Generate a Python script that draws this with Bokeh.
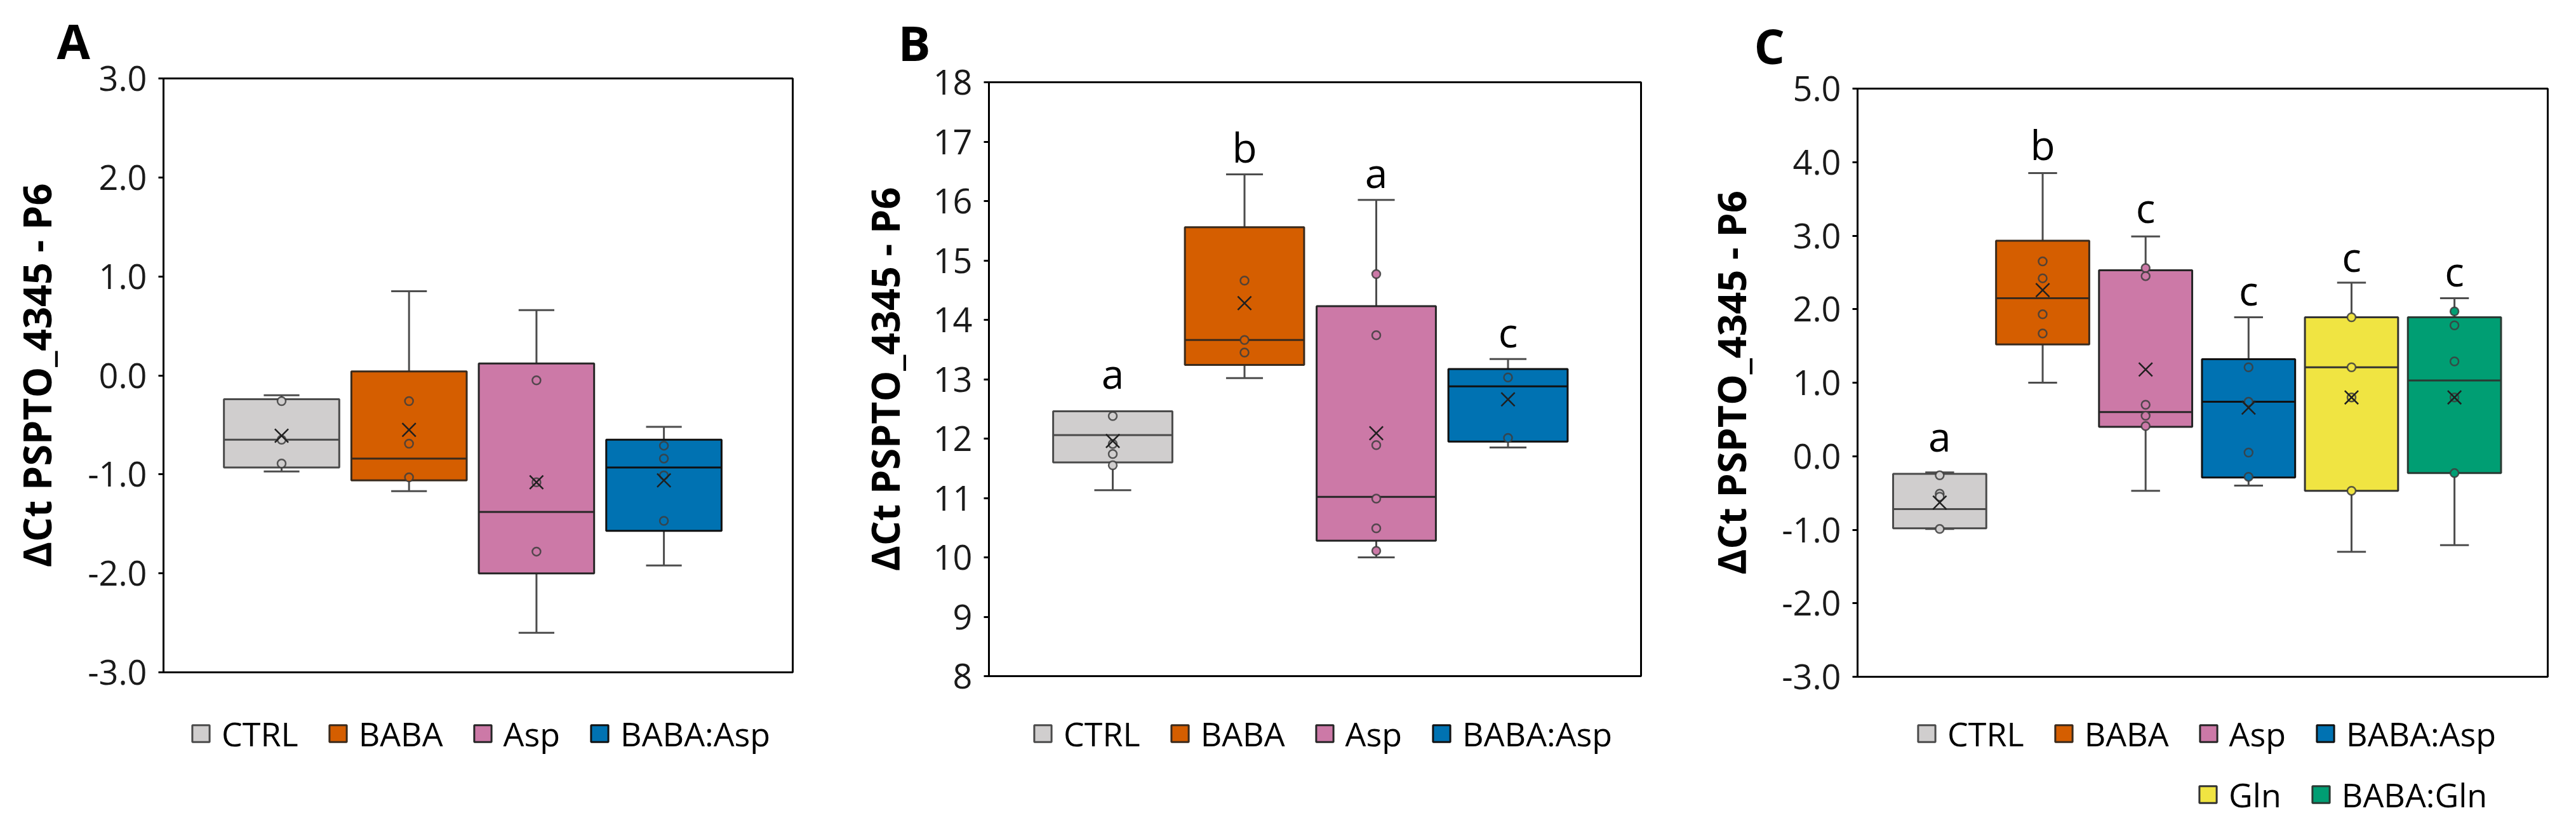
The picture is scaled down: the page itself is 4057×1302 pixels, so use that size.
import numpy as np
from bokeh.plotting import figure
from bokeh.models import (ColumnDataSource, Range1d, FixedTicker, NumeralTickFormatter,
                          Legend, LegendItem, Title)
from bokeh.layouts import row, column
from bokeh.embed import file_html
from bokeh.resources import INLINE
from bokeh.core.properties import value

# ---------------- data ----------------
cats_AB = ["CTRL", "BABA", "Asp", "BABA:Asp"]
cats_C = ["CTRL", "BABA", "Asp", "BABA:Asp", "Gln", "BABA:Gln"]

# Panel A
A_lo = [-0.97, -1.17, -2.60, -1.92]
A_q1 = [-0.93, -1.06, -2.00, -1.57]
A_med = [-0.65, -0.84, -1.38, -0.93]
A_q3 = [-0.24, 0.04, 0.12, -0.65]
A_hi = [-0.20, 0.85, 0.66, -0.52]
A_mean = [-0.61, -0.55, -1.08, -1.06]
A_pts = [[-0.26, -0.65, -0.89],
         [-0.26, -0.69, -1.03],
         [-0.05, -1.08, -1.78],
         [-0.71, -0.84, -1.01, -1.47]]
A_letters = []
A_letter_y = []
A_ticks = [-3, -2, -1, 0, 1, 2, 3]

# Panel B
B_lo = [11.13, 13.02, 10.00, 11.85]
B_q1 = [11.60, 13.24, 10.28, 11.95]
B_med = [12.06, 13.66, 11.02, 12.88]
B_q3 = [12.46, 15.56, 14.23, 13.17]
B_hi = [12.46, 16.45, 16.02, 13.34]
B_mean = [11.96, 14.28, 12.09, 12.66]
B_pts = [[12.38, 11.91, 11.74, 11.55],
         [14.66, 13.66, 13.45],
         [14.77, 13.74, 11.89, 10.99, 10.49, 10.11],
         [13.03, 12.01]]
B_letters = ["a", "b", "a", "c"]
B_letter_y = [12.88, 16.68, 16.26, 13.57]
B_ticks = [8, 9, 10, 11, 12, 13, 14, 15, 16, 17, 18]

# Panel C
C_lo = [-0.99, 1.00, -0.47, -0.40, -1.30, -1.21]
C_q1 = [-0.98, 1.52, 0.40, -0.29, -0.47, -0.23]
C_med = [-0.72, 2.15, 0.60, 0.74, 1.21, 1.03]
C_q3 = [-0.24, 2.93, 2.53, 1.32, 1.89, 1.89]
C_hi = [-0.22, 3.85, 2.99, 1.89, 2.36, 2.15]
C_mean = [-0.63, 2.26, 1.18, 0.66, 0.80, 0.80]
C_pts = [[-0.26, -0.51, -0.55, -0.99],
         [2.65, 2.42, 1.93, 1.67],
         [2.56, 2.45, 0.70, 0.55, 0.41],
         [1.21, 0.74, 0.05, -0.28],
         [1.89, 1.21, 0.80, -0.47],
         [1.97, 1.78, 1.29, 0.80, -0.23]]
C_letters = ["a", "b", "c", "c", "c", "c"]
C_letter_y = [0.09, 4.06, 3.20, 2.08, 2.54, 2.34]
C_ticks = [-3, -2, -1, 0, 1, 2, 3, 4, 5]

Y_TITLE = "ΔCt PSPTO_4345 - P6"

# ---------------- style / layout ----------------
FILL = {"CTRL": "#D0CECE", "BABA": "#D55E00", "Asp": "#CC79A7",
        "BABA:Asp": "#0072B2", "Gln": "#F0E442", "BABA:Gln": "#009E73"}
EDGE = {"CTRL": "#4a4a4a", "BABA": "#3a2a1c", "Asp": "#262626",
        "BABA:Asp": "#111111", "Gln": "#333333", "BABA:Gln": "#2a3a33"}
FONT = "Open Sans"
BOX_W = 0.905
CAP_W = 0.28
MAIN_H = 1102     # box-plot figure incl. panel letter   (page y 8..1110)
LEG_FIG_H = 184   # legend strip                         (page y 1110..1294)
LEG_H = 71        # approx height of one legend row
TXT_SHIFT = -21   # lift text glyphs so their baseline sits where intended


def blank(width, height, mb_left=0, mb_right=0):
    f = figure(width=width, height=height, output_backend="svg", toolbar_location=None,
               x_range=Range1d(0, width - mb_left - mb_right), y_range=Range1d(0, height),
               x_axis_location=None, y_axis_location=None,
               min_border_left=mb_left, min_border_right=mb_right,
               min_border_top=0, min_border_bottom=0, frame_align=False)
    f.grid.visible = False
    f.outline_line_color = None
    f.background_fill_color = "white"
    f.border_fill_color = "white"
    return f


def panel(letter, cats, lo, q1, med, q3, hi, mean, pts, letters, letter_y,
          ticks, fmt, yr, width, mb_left, mb_right, mb_top, mb_bottom,
          xr, ax_standoff, letter_off, letter_standoff, legend_rows):
    n = len(cats)
    x = np.arange(1, n + 1)
    src = ColumnDataSource(dict(
        x=x, lo=lo, q1=q1, med=med, q3=q3, hi=hi, mean=mean,
        cat=cats, fill=[FILL[c] for c in cats], edge=[EDGE[c] for c in cats],
        left=x - BOX_W / 2, right=x + BOX_W / 2,
        cl=x - CAP_W / 2, cr=x + CAP_W / 2))

    # ---- main box plot ----
    p = figure(width=width, height=MAIN_H, output_backend="svg", toolbar_location=None,
               x_range=Range1d(*xr), y_range=Range1d(*yr), x_axis_location=None,
               min_border_left=mb_left, min_border_right=mb_right,
               min_border_top=mb_top, min_border_bottom=mb_bottom, frame_align=False)
    p.grid.visible = False
    p.outline_line_color = "black"
    p.outline_line_width = 3
    p.background_fill_color = "white"
    p.border_fill_color = "white"

    # panel letter, top-left, as the figure title
    p.title = Title(text=letter, align="left", offset=letter_off, standoff=letter_standoff,
                    text_font=FONT, text_font_style="bold", text_font_size="76px",
                    text_color="black")

    ax = p.yaxis[0]
    ax.ticker = FixedTicker(ticks=ticks)
    ax.formatter = NumeralTickFormatter(format=fmt)
    ax.axis_line_width = 3
    ax.axis_line_color = "black"
    ax.major_tick_in = 0
    ax.major_tick_out = 8
    ax.major_tick_line_width = 3
    ax.minor_tick_line_color = None
    ax.major_label_text_font = FONT
    ax.major_label_text_font_size = "54px"
    ax.major_label_text_color = "#1a1a1a"
    ax.major_label_standoff = 18
    ax.axis_label = Y_TITLE
    ax.axis_label_text_font = FONT
    ax.axis_label_text_font_style = "bold"
    ax.axis_label_text_font_size = "61px"
    ax.axis_label_text_color = "black"
    ax.axis_label_standoff = ax_standoff

    wk = dict(source=src, line_color="#4d4d4d", line_width=3)
    p.segment(x0="x", y0="q3", x1="x", y1="hi", **wk)
    p.segment(x0="x", y0="lo", x1="x", y1="q1", **wk)
    p.segment(x0="cl", y0="hi", x1="cr", y1="hi", **wk)
    p.segment(x0="cl", y0="lo", x1="cr", y1="lo", **wk)
    p.vbar(x="x", width=BOX_W, bottom="q1", top="q3", source=src,
           fill_color="fill", line_color="edge", line_width=3)
    p.segment(x0="left", y0="med", x1="right", y1="med", source=src,
              line_color="edge", line_width=3)
    px, py, pc = [], [], []
    for i, vals in enumerate(pts):
        for v in vals:
            px.append(x[i]); py.append(v); pc.append(FILL[cats[i]])
    p.scatter(px, py, marker="circle", size=13, fill_color=pc,
              line_color="#3d3d3d", line_width=2.5, line_alpha=0.85)
    p.scatter(x="x", y="mean", source=src, marker="x", size=30,
              line_color="#1f1f1f", line_width=2.5)
    if letters:
        p.text(x=list(x), y=letter_y, text=letters, text_align="center",
               text_baseline="alphabetic", y_offset=TXT_SHIFT,
               text_font=value(FONT), text_font_size="64px", text_color="black")

    # ---- legend strip (frame aligned with the plot frame) ----
    leg = blank(width, LEG_FIG_H, mb_left, mb_right)
    key = leg.vbar(x="x", width=BOX_W, bottom="q1", top="q3", source=src,
                   fill_color="fill", line_color="edge", line_width=3, visible=False)
    for idxs, lx, center_below_top in legend_rows:
        items = [LegendItem(label=cats[i], renderers=[key], index=i) for i in idxs]
        lg = Legend(items=items, location=(lx, LEG_FIG_H - center_below_top - LEG_H / 2),
                    orientation="horizontal", padding=0, margin=0, spacing=45,
                    glyph_width=34, glyph_height=33, label_standoff=16,
                    label_text_font=FONT, label_text_font_size="52px",
                    label_text_color="black",
                    border_line_alpha=0, background_fill_alpha=0)
        leg.add_layout(lg)
    return column(p, leg)


pA = panel("A", cats_AB, A_lo, A_q1, A_med, A_q3, A_hi, A_mean, A_pts, A_letters, A_letter_y,
           A_ticks, "0.0", (-3, 3), 1342, 257, 94, 121, 44,
           (0.0733, 5.011), 36, -168, 18,
           [([0, 1, 2, 3], 42, 52)])

pB = panel("B", cats_AB, B_lo, B_q1, B_med, B_q3, B_hi, B_mean, B_pts, B_letters, B_letter_y,
           B_ticks, "0", (8, 18), 1340, 215, 98, 128, 38,
           (0.0602, 5.0096), 32, -143, 24,
           [([0, 1, 2, 3], 68, 52)])

pC = panel("C", cats_C, C_lo, C_q1, C_med, C_q3, C_hi, C_mean, C_pts, C_letters, C_letter_y,
           C_ticks, "0.0", (-3, 5), 1359, 242, 29, 139, 37,
           (0.202, 6.906), 35, -163, 34,
           [([0, 1, 2, 3], 93, 52), ([4, 5], 536, 148)])

layout = row(pA, pB, pC)
open("out.html", "w").write(file_html(layout, INLINE))
